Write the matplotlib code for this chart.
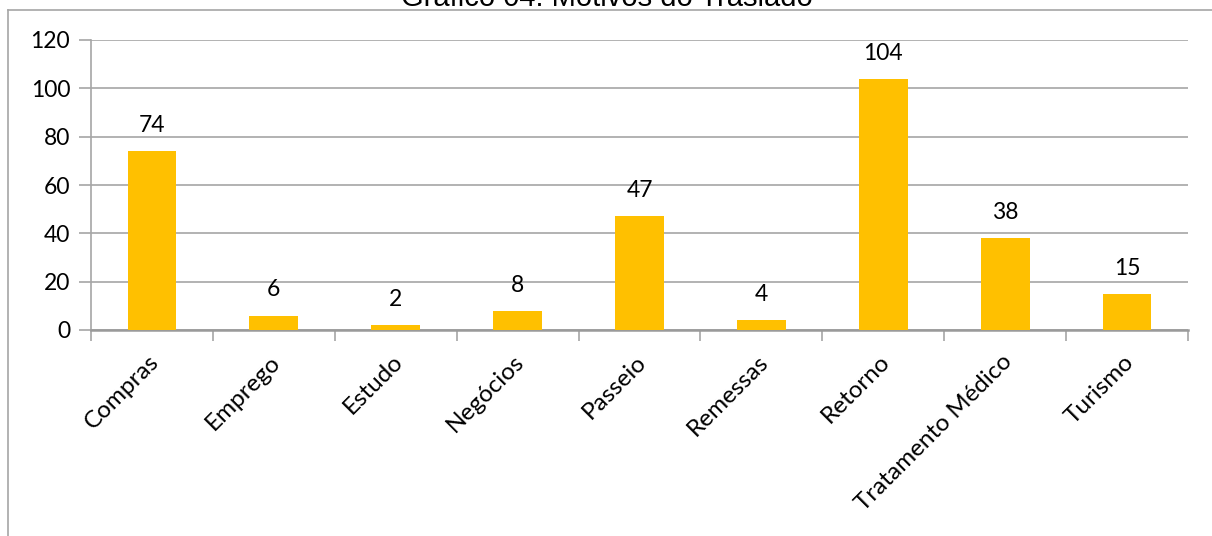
import numpy as np
import matplotlib.pyplot as plt
from matplotlib.lines import Line2D
from matplotlib.transforms import ScaledTranslation

categorias = ["Compras", "Emprego", "Estudo", "Negócios", "Passeio",
              "Remessas", "Retorno", "Tratamento Médico", "Turismo"]
valores = [74, 6, 2, 8, 47, 4, 104, 38, 15]
y_ticks = [0, 20, 40, 60, 80, 100, 120]
titulo = "Gráfico 04: Motivos do Traslado"

W, H = 1212, 536
fig = plt.figure(figsize=(W / 100, H / 100), dpi=100)

# chart frame (top + left, rest runs off the image)
grey = "#a6a6a6"
fig.add_artist(Line2D([8 / W, 1.0], [1 - 10 / H, 1 - 10 / H], color=grey, lw=1.2))
fig.add_artist(Line2D([8 / W, 8 / W], [1 - 10 / H, 0.0], color=grey, lw=1.2))

fig.text(607 / W, 1 - 6 / H, titulo, ha="center", va="baseline",
         family="Liberation Sans", fontsize=21)

ax = fig.add_axes([91 / W, 1 - 330 / H, 1097 / W, 290 / H])
x = np.arange(len(categorias))
bars = ax.bar(x, valores, width=0.4, color="#ffc000", zorder=3)

ax.set_xlim(-0.5, len(categorias) - 0.5)
ax.set_ylim(0, 120)
ax.set_yticks(y_ticks)
ax.yaxis.grid(True, color=grey, lw=1.2, zorder=0)

for s in ["top", "right"]:
    ax.spines[s].set_visible(False)
ax.spines["left"].set_color(grey)
ax.spines["left"].set_linewidth(1.2)
ax.spines["bottom"].set_color("#9a9a9a")
ax.spines["bottom"].set_linewidth(1.8)

font = "Lato"
fs = 16.5
ax.tick_params(axis="y", length=9, width=1.2, color=grey, pad=6,
               labelsize=fs, labelfontfamily=font)

ax.set_xticks(x)
ax.set_xticklabels(categorias, rotation=45, ha="right", rotation_mode="anchor",
                   fontsize=17.5, family=font)
ax.tick_params(axis="x", which="major", length=0, pad=13)
shift = ScaledTranslation(-4 / 100, -3 / 100, fig.dpi_scale_trans)
for t in ax.get_xticklabels():
    t.set_transform(t.get_transform() + shift)
ax.set_xticks(np.arange(len(categorias) + 1) - 0.5, minor=True)
ax.tick_params(axis="x", which="minor", length=8, width=1.2, color=grey)

for b, v in zip(bars, valores):
    ax.annotate(str(v), (b.get_x() + b.get_width() / 2, v),
                xytext=(0, 19), textcoords="offset pixels",
                ha="center", va="baseline", fontsize=fs, family=font)

fig.savefig("out.png", dpi=100)
